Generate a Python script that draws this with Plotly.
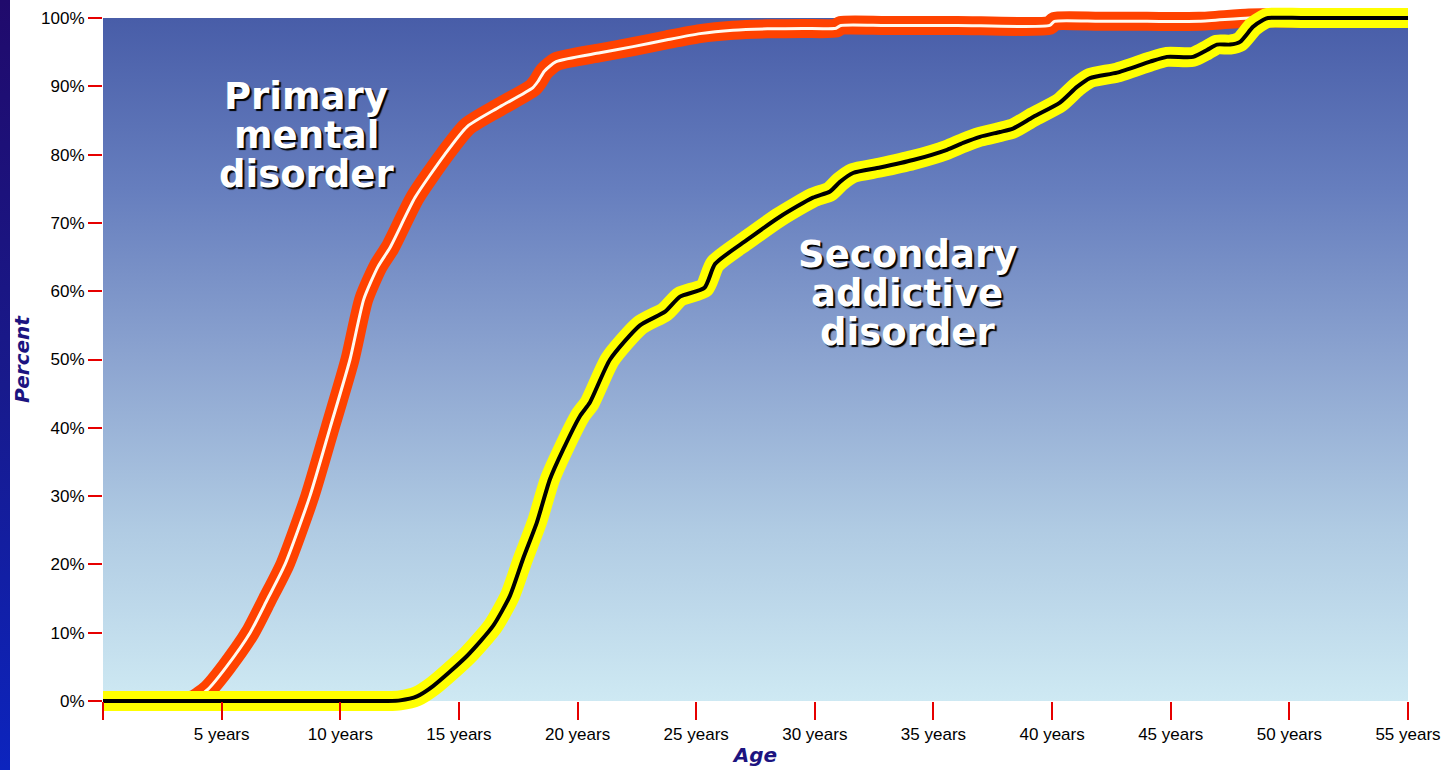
import base64
import plotly.graph_objects as go

# ---------------- data ----------------
primary_age = [0, 2.0, 3.2, 3.8, 4.43, 5.2, 6.2, 6.93, 7.67, 8.72, 9.57, 10.41, 10.99, 11.59, 12.1,
               13.15, 14.4, 15.35, 16.73, 18.12, 18.35, 18.6, 19.1, 20.95, 22.34, 23.77,
               25.16, 26.55, 28.0, 29.5, 30.9, 31.1, 33.0, 36.0, 39.9, 40.1, 42.0, 44.0,
               46.2, 48.3, 50.0, 52.5, 55]
primary_pct = [0, 0, 0, 0.2, 1.75, 5, 10, 14.9, 20, 30, 40, 50, 58.8, 63.6, 66.4,
               73.7, 80, 84.1, 87.0, 89.8, 90.8, 92.2, 93.6, 94.9, 95.8, 96.8,
               97.7, 98.2, 98.4, 98.45, 98.5, 98.9, 98.9, 98.9, 98.9, 99.5, 99.5, 99.5,
               99.5, 100, 100, 100, 100]

secondary_age = [0, 4.0, 8.0, 11.0, 12.0, 12.52, 13.23, 13.91, 15.34, 16.44, 17.15, 17.70, 18.29,
                 18.84, 19.39, 20.10, 20.52, 21.37, 22.63, 23.69, 24.32, 25.35, 25.8, 27.14,
                 28.53, 29.92, 30.64, 31.06, 31.61, 32.75, 34.14, 35.57, 36.25, 36.96, 37.80,
                 38.35, 39.20, 40.33, 41.05, 41.60, 42.74, 44.13, 44.84, 45.94, 46.53,
                 46.95, 47.50, 47.92, 48.47, 48.89, 49.1, 50.5, 52.5, 55]
secondary_pct = [0, 0, 0, 0, 0, 0.1, 0.7, 2.2, 6.6, 11, 15.4, 20.8, 26.2,
                 32.5, 36.8, 41.7, 43.7, 50, 55, 57, 59.2, 60.5, 64, 67.5,
                 70.9, 73.7, 74.6, 76, 77.3, 78.1, 79.2, 80.7, 81.7, 82.6, 83.3,
                 83.8, 85.5, 87.6, 89.9, 91.2, 92.0, 93.6, 94.3, 94.3, 95.3,
                 96.1, 96.1, 96.5, 98.7, 99.7, 100, 100, 100, 100]

x_tick_vals = [0, 5, 10, 15, 20, 25, 30, 35, 40, 45, 50, 55]
x_tick_text = ["", "5 years", "10 years", "15 years", "20 years", "25 years", "30 years",
               "35 years", "40 years", "45 years", "50 years", "55 years"]
y_tick_vals = [0, 10, 20, 30, 40, 50, 60, 70, 80, 90, 100]
y_tick_text = ["0%", "10%", "20%", "30%", "40%", "50%", "60%", "70%", "80%", "90%", "100%"]

primary_label = ["Primary", "mental", "disorder"]
secondary_label = ["Secondary", "addictive", "disorder"]

# ---------------- layout constants ----------------
W, H = 1446, 770
ML, MR, MT, MB = 103, 38, 7, 58
Y_LO, Y_HI = -1.6, 101.6
TICK_RED = "#e60000"
NAVY = "#1c1480"


def svg_gradient(stops):
    st = "".join('<stop offset="%.3f" stop-color="%s"/>' % (o, c) for o, c in stops)
    svg = ('<svg xmlns="http://www.w3.org/2000/svg" width="10" height="100" '
           'preserveAspectRatio="none"><defs><linearGradient id="g" x1="0" y1="0" x2="0" y2="1">'
           + st + '</linearGradient></defs><rect width="10" height="100" fill="url(#g)"/></svg>')
    return "data:image/svg+xml;base64," + base64.b64encode(svg.encode()).decode()


# plot background gradient (top -> bottom)
bg_src = svg_gradient([(0.0, "rgb(72,93,168)"), (0.25, "rgb(102,126,190)"),
                       (0.5, "rgb(140,164,208)"), (0.75, "rgb(176,203,227)"),
                       (1.0, "rgb(206,233,243)")])
strip_src = svg_gradient([(0.0, "rgb(32,10,108)"), (0.5, "rgb(24,26,140)"),
                          (1.0, "rgb(12,36,190)")])

plot_w = W - ML - MR
plot_h = H - MT - MB

images = [
    dict(source=bg_src, xref="x", yref="y", x=0, y=100, sizex=55, sizey=100,
         sizing="stretch", layer="below", xanchor="left", yanchor="top"),
    dict(source=strip_src, xref="paper", yref="paper", x=-ML / plot_w, y=1 + MT / plot_h,
         sizex=10 / plot_w, sizey=H / plot_h, sizing="stretch", layer="below",
         xanchor="left", yanchor="top"),
]

SM = 0.6
fig = go.Figure()
fig.add_trace(go.Scatter(x=primary_age, y=primary_pct, mode="lines",
                         line=dict(color="#ff4200", width=19, shape="spline", smoothing=SM),
                         hoverinfo="skip", showlegend=False))
fig.add_trace(go.Scatter(x=primary_age, y=primary_pct, mode="lines",
                         line=dict(color="#fffaf0", width=3, shape="spline", smoothing=SM),
                         hoverinfo="skip", showlegend=False))
fig.add_trace(go.Scatter(x=secondary_age, y=secondary_pct, mode="lines",
                         line=dict(color="#ffff00", width=20, shape="spline", smoothing=SM),
                         hoverinfo="skip", showlegend=False))
fig.add_trace(go.Scatter(x=secondary_age, y=secondary_pct, mode="lines",
                         line=dict(color="#000000", width=4, shape="spline", smoothing=SM),
                         hoverinfo="skip", showlegend=False))

label_font = dict(family="DejaVu Sans", size=37, color="white", weight="bold",
                  shadow="2px 2px 1px #000000")
annotations = []
for txt, yy in zip(primary_label, [88.45, 82.75, 77.05]):
    annotations.append(dict(x=8.56, y=yy, xref="x", yref="y", text=txt, showarrow=False,
                            font=label_font, xanchor="center", yanchor="middle"))
for txt, yy in zip(secondary_label, [65.35, 59.65, 53.95]):
    annotations.append(dict(x=33.89, y=yy, xref="x", yref="y", text=txt, showarrow=False,
                            font=label_font, xanchor="center", yanchor="middle"))

tick_font = dict(family="Liberation Sans", size=17, color="#000000")
title_font = dict(family="DejaVu Sans", size=20, color=NAVY, weight="bold", style="italic")

fig.update_layout(
    width=W, height=H,
    margin=dict(l=ML, r=MR, t=MT, b=MB, autoexpand=False),
    paper_bgcolor="white", plot_bgcolor="rgba(0,0,0,0)",
    images=images, annotations=annotations,
    xaxis=dict(range=[0, 55], tickmode="array", tickvals=x_tick_vals, ticktext=x_tick_text,
               ticks="outside", ticklen=18, tickwidth=2, tickcolor=TICK_RED,
               showgrid=False, zeroline=False, showline=False,
               anchor="free", position=(0 - Y_LO) / (Y_HI - Y_LO),
               tickfont=tick_font, title=dict(text="Age", font=title_font, standoff=4)),
    yaxis=dict(range=[Y_LO, Y_HI], tickmode="array", tickvals=y_tick_vals, ticktext=y_tick_text,
               ticks="outside", ticklen=14, tickwidth=2, tickcolor=TICK_RED,
               showgrid=False, zeroline=False, showline=False,
               tickfont=tick_font, title=dict(text="Percent", font=title_font, standoff=6)),
)

fig.write_html("out.html", config={"displayModeBar": False},
               post_script="document.body.style.margin='0';document.body.style.overflow='hidden';")
